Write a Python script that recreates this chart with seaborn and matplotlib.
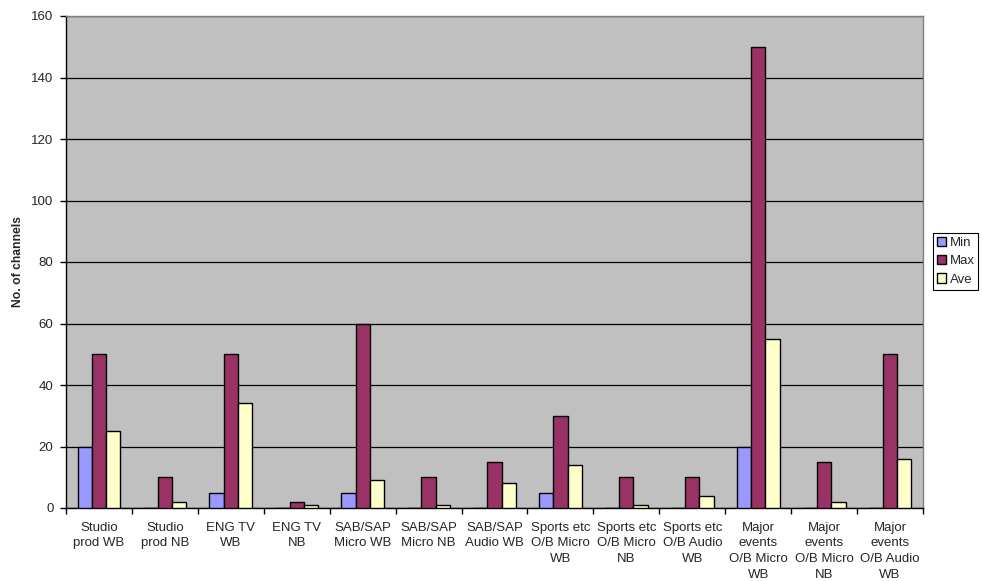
import matplotlib
matplotlib.use("Agg")
import matplotlib.pyplot as plt
import seaborn as sns
import pandas as pd
import numpy as np

categories = [
    "Studio\nprod WB", "Studio\nprod NB", "ENG TV\nWB", "ENG TV\nNB",
    "SAB/SAP\nMicro WB", "SAB/SAP\nMicro NB", "SAB/SAP\nAudio WB",
    "Sports etc\nO/B Micro\nWB", "Sports etc\nO/B Micro\nNB",
    "Sports etc\nO/B Audio\nWB", "Major\nevents\nO/B Micro\nWB",
    "Major\nevents\nO/B Micro\nNB", "Major\nevents\nO/B Audio\nWB",
]
min_vals = [20, 0, 5, 0, 5, 0, 0, 5, 0, 0, 20, 0, 0]
max_vals = [50, 10, 50, 2, 60, 10, 15, 30, 10, 10, 150, 15, 50]
ave_vals = [25, 2, 34, 1, 9, 1, 8, 14, 1, 4, 55, 2, 16]
series_names = ["Min", "Max", "Ave"]
series_colors = ["#9999FF", "#993366", "#FFFFCC"]
y_ticks = [0, 20, 40, 60, 80, 100, 120, 140, 160]

df = pd.DataFrame({"category": categories, "Min": min_vals,
                   "Max": max_vals, "Ave": ave_vals})
long_df = df.melt(id_vars="category", value_vars=series_names,
                  var_name="series", value_name="channels")

sns.set_style("white")
plt.rcParams["font.family"] = ["Liberation Sans", "DejaVu Sans"]

fig = plt.figure(figsize=(9.82, 5.81), dpi=100)
ax = fig.add_axes([66 / 982, 1 - 508 / 581, (923 - 66) / 982, (508 - 16) / 581])
ax.set_facecolor("#C0C0C0")

sns.barplot(data=long_df, x="category", y="channels", hue="series",
            hue_order=series_names, order=categories,
            palette=series_colors, width=0.65, edgecolor="black",
            linewidth=1.0, saturation=1, ax=ax, zorder=3)

ax.set_ylim(0, 160)
ax.set_xlim(-0.5, len(categories) - 0.5)
ax.set_yticks(y_ticks)
ax.yaxis.grid(True, color="black", linewidth=0.9, zorder=0)
ax.set_axisbelow(True)

ax.set_xticks(range(len(categories)))
ax.set_xticklabels(categories, fontsize=9.5, linespacing=1.4)
ax.set_xticks(np.arange(-0.5, len(categories)), minor=True)
ax.tick_params(axis="x", which="major", length=0, pad=10)
ax.tick_params(axis="x", which="minor", length=4, width=1, color="black",
               direction="out", bottom=True)
ax.tick_params(axis="y", length=4, width=1, color="black", direction="out",
               left=True, labelsize=9.5, pad=5)

ax.set_xlabel("")
ax.set_ylabel("No. of channels", fontsize=8.7, fontweight="bold", labelpad=5.5)

for side in ("left", "bottom"):
    ax.spines[side].set_color("black")
    ax.spines[side].set_linewidth(1.0)
for side in ("top", "right"):
    ax.spines[side].set_color("#808080")
    ax.spines[side].set_linewidth(1.0)

handles, labels = ax.get_legend_handles_labels()
leg = fig.legend(handles, labels, loc="upper left",
                 bbox_to_anchor=(933 / 982, 1 - 233 / 581),
                 fontsize=9.5, frameon=True, fancybox=False,
                 edgecolor="black", framealpha=1, borderpad=0.3,
                 handlelength=0.7, handleheight=0.7, handletextpad=0.25,
                 labelspacing=0.45, borderaxespad=0)
leg.get_frame().set_linewidth(0.8)
if ax.get_legend() is not None:
    ax.get_legend().remove()

fig.savefig("out.png", dpi=100)
